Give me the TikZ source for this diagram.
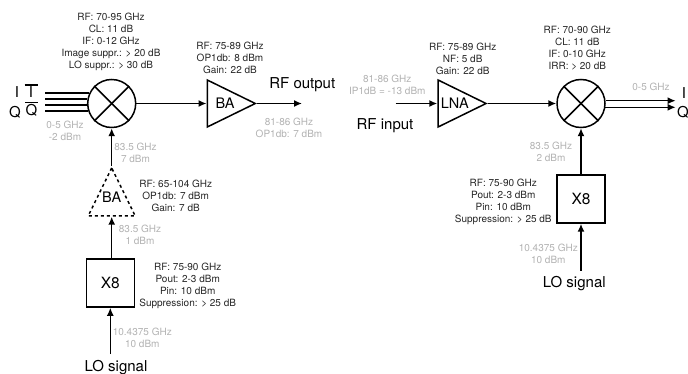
\documentclass[tikz,border=0pt]{standalone}
\usepackage{fontspec}
\setmainfont{TeX Gyre Heros}
\usetikzlibrary{positioning,calc,arrows,arrows.meta,shapes.geometric}
\newcommand{\barred}[1]{\vbox{\hrule height 1.2pt\kern 1.2pt\hbox to 13pt{\hss #1\hss}}}
\tikzset{
	font=\fontsize{10}{12}\selectfont,
	sig/.style={line width=1.5pt, -{Latex[length=8pt,width=7pt]}},
	wire/.style={line width=1.5pt},
	spec/.style={align=center, inner sep=0pt, text=black!85, yshift=-1pt},
	note/.style={align=center, inner sep=0pt, text=black!30, yshift=-0.5pt},
	big/.style={inner sep=0pt, font=\fontsize{15}{17}\selectfont},
	mixer/.style={draw, circle, line width=1.5pt, minimum size=48pt, inner sep=0pt},
	amp/.style={draw, isosceles triangle, isosceles triangle apex angle=52, isosceles triangle stretches, minimum width=47pt, minimum height=48pt, inner sep=0pt, line width=1.5pt, font=\fontsize{14.5}{16}\selectfont},
	mult/.style={draw, rectangle, minimum size=48pt, inner sep=0pt, line width=1.5pt, font=\fontsize{15.5}{17}\selectfont},
}

\begin{document}
\begin{tikzpicture}[x=1pt, y=-1pt]
	\useasboundingbox (0, 0) rectangle (688, 374);

	% transmitter
	\begin{scope}
		\node[mixer] (mix1) at (111.7, 103.5) {};
		\draw[wire] (mix1.45) -- (mix1.225);
		\draw[wire] (mix1.135) -- (mix1.315);
		\node[amp, anchor=lower side] (ba1) at (206.5, 103.5) {\hspace*{4pt}BA};
		\node[amp, anchor=lower side, dashed, shape border rotate=90] (ba2) at (111.7, 216.7) {\raisebox{12pt}{BA}};
		\node[mult] (x81) at (110.3, 283) {X8};

		\coordinate (i1) at (45, 93);
		\coordinate (i2) at (45, 99);
		\coordinate (q1) at (45, 105);
		\coordinate (q2) at (45, 111);
		\coordinate (out1) at (302, 103.5);
		\coordinate (lo1) at (110.3, 354);

		\draw[wire] (i1) -- (i1 -| mix1.154);
		\draw[wire] (i2) -- (i2 -| mix1.169);
		\draw[wire] (q1) -- (q1 -| mix1.184);
		\draw[wire] (q2) -- (q2 -| mix1.198);
		\draw[sig] (mix1.east) -- (ba1.lower side);
		\draw[sig] (ba1.apex) -- (out1);
		\draw[sig] (ba2.apex) -- (mix1.south);
		\draw[sig] (x81.north -| ba2.lower side) -- (ba2.lower side);
		\draw[sig] (lo1) -- (x81.south);

		\node[big] (iin) at (17, 92) {I};
		\node[big] (iinb) at (31, 91) {\barred{I}};
		\node[big] (qin) at (15, 112) {Q};
		\node[big] (qinb) at (31.5, 109) {\barred{Q}};
		\node[big] (rfout) at (302.3, 85) {RF output};
		\node[big] (losig1) at (116, 367.5) {LO signal};

		\node[spec] (mix1spec) at (111, 41) {RF: 70-95 GHz\\CL: 11 dB\\IF: 0-12 GHz\\Image suppr.: > 20 dB\\LO suppr.: > 30 dB};
		\node[spec] (ba1spec) at (230, 57) {RF: 75-89 GHz\\OP1db: 8 dBm\\Gain: 22 dB};
		\node[spec] (ba2spec) at (175.7, 195) {RF: 65-104 GHz\\OP1db: 7 dBm\\Gain: 7 dB};
		\node[spec] (x81spec) at (187.7, 284.7) {RF: 75-90 GHz\\Pout: 2-3 dBm\\Pin: 10 dBm\\Suppression: > 25 dB};

		\node[note] (ifnote1) at (65, 130) {0-5 GHz\\-2 dBm};
		\node[note] (lonote1) at (135.5, 152) {83.5 GHz\\7 dBm};
		\node[note] (lonote2) at (140, 234) {83.5 GHz\\1 dBm};
		\node[note] (lonote3) at (142.3, 337.7) {10.4375 GHz\\10 dBm};
		\node[note] (outnote) at (289, 127.7) {81-86 GHz\\OP1db: 7 dBm};
	\end{scope}

	% receiver
	\begin{scope}
		\node[mixer] (mix2) at (581, 103.5) {};
		\draw[wire] (mix2.45) -- (mix2.225);
		\draw[wire] (mix2.135) -- (mix2.315);
		\node[amp, anchor=lower side] (lna) at (437.3, 103.5) {LNA};
		\node[mult] (x82) at (581, 199) {X8};

		\coordinate (in1) at (395.7, 103.5);
		\coordinate (lo2) at (581, 270.7);
		\coordinate (iout) at (675.7, 100.7);
		\coordinate (qout) at (675.7, 107.3);

		\draw[sig] (in1) -- (lna.lower side);
		\draw[sig] (lna.apex) -- (mix2.west);
		\draw[sig] (x82.north) -- (mix2.south);
		\draw[sig] (lo2) -- (x82.south);
		\draw[sig] (iout -| mix2.7) -- (iout);
		\draw[sig] (qout -| mix2.351) -- (qout);

		\node[big] (iend) at (684, 93) {I};
		\node[big] (qend) at (683, 112) {Q};
		\node[big] (rfin) at (385, 126) {RF input};
		\node[big] (losig2) at (574.3, 283.2) {LO signal};

		\node[spec] (lnaspec) at (462.7, 58) {RF: 75-89 GHz\\NF: 5 dB\\Gain: 22 dB};
		\node[spec] (mix2spec) at (577.3, 47) {RF: 70-90 GHz\\CL: 11 dB\\IF: 0-10 GHz\\IRR: > 20 dB};
		\node[spec] (x82spec) at (503.3, 201) {RF: 75-90 GHz\\Pout: 2-3 dBm\\Pin: 10 dBm\\Suppression: > 25 dB};

		\node[note] (innote) at (387.3, 84.3) {81-86 GHz\\IP1dB = -13 dBm};
		\node[note] (ifnote2) at (651, 86.7) {0-5 GHz};
		\node[note] (lonote4) at (551, 151.7) {83.5 GHz\\2 dBm};
		\node[note] (lonote5) at (548.3, 253.7) {10.4375 GHz\\10 dBm};
	\end{scope}
\end{tikzpicture}
\end{document}
